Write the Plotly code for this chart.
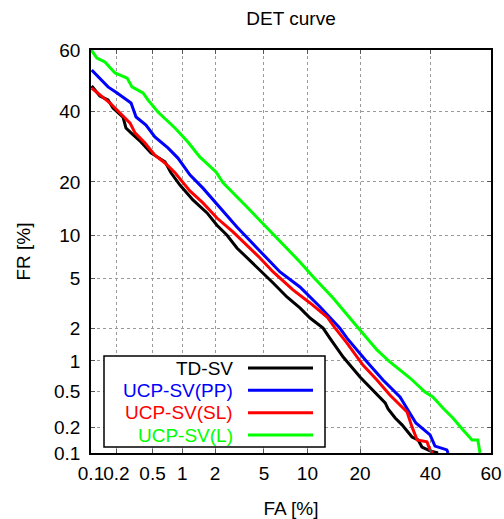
from statistics import NormalDist
import plotly.graph_objects as go

# ---- data (percent) ----
tick_values = [0.1, 0.2, 0.5, 1, 2, 5, 10, 20, 40, 60]
tick_labels = ["0.1", "0.2", "0.5", "1", "2", "5", "10", "20", "40", "60"]

td_sv_fa = [0.102, 0.128, 0.160, 0.183, 0.238, 0.257, 0.293, 0.376, 0.481, 0.672, 0.772, 0.947,
            1.26, 1.70, 2.08, 2.53, 3.07, 4.67, 5.85, 7.32, 8.95, 10.4, 12.5, 13.7, 16.3, 20.0,
            23.2, 26.4, 27.2, 29.2, 31.2, 34.2, 36.1, 37.3, 39.9, 42.5]
td_sv_fr = [48.2, 44.9, 43.6, 41.0, 38.1, 34.7, 33.2, 30.5, 27.4, 25.0, 22.2, 19.3,
            16.1, 13.6, 11.5, 10.0, 8.24, 5.80, 4.65, 3.63, 2.96, 2.44, 2.00, 1.63, 1.09, 0.695,
            0.512, 0.374, 0.322, 0.256, 0.214, 0.155, 0.143, 0.118, 0.106, 0.1]

pp_fa = [0.102, 0.128, 0.160, 0.204, 0.265, 0.293, 0.333, 0.426, 0.529, 0.72, 0.905, 1.18,
         1.56, 2.21, 3.07, 4.43, 6.55, 8.95, 12.0, 15.6, 17.1, 21.7, 25.8, 30.6, 32.7, 35.4,
         39.9, 41.5, 45.4, 45.8]
pp_fr = [53.5, 50.8, 47.9, 45.9, 43.6, 42.6, 38.1, 35.6, 32.0, 28.8, 26.0, 21.7,
         18.6, 14.5, 11.2, 8.24, 5.61, 4.34, 3.01, 2.00, 1.63, 0.977, 0.649, 0.433, 0.330, 0.225,
         0.164, 0.121, 0.109, 0.1]

sl_fa = [0.102, 0.128, 0.169, 0.220, 0.252, 0.286, 0.324, 0.416, 0.529, 0.672, 0.847, 1.18,
         1.56, 2.08, 2.85, 3.90, 4.67, 5.85, 8.05, 10.4, 13.2, 14.7, 17.1, 20.7, 24.2, 27.7,
         31.5, 32.7, 34.2, 35.8, 38.9, 39.9, 40.8]
sl_fr = [47.5, 45.2, 42.6, 39.4, 37.8, 36.2, 33.2, 30.2, 26.8, 24.7, 22.2, 18.0,
         15.5, 12.7, 10.45, 8.24, 7.05, 5.61, 4.12, 3.25, 2.49, 2.00, 1.47, 0.913, 0.649, 0.454,
         0.330, 0.298, 0.203, 0.143, 0.136, 0.109, 0.1]

l_fa = [0.101, 0.118, 0.147, 0.193, 0.265, 0.30, 0.396, 0.447, 0.569, 0.847, 1.13, 1.46,
        2.04, 2.35, 3.70, 5.27, 7.32, 8.95, 10.9, 14.3, 19.6, 24.2, 27.7, 33.6, 38.3, 40.8,
        44.1, 47.4, 50.8, 53.8, 55.7, 56.4]
l_fr = [60.0, 57.4, 56.1, 52.5, 50.8, 47.9, 45.9, 43.6, 39.7, 34.7, 30.5, 26.3,
        22.4, 19.8, 14.7, 11.1, 8.24, 6.62, 5.16, 3.56, 2.00, 1.27, 0.977, 0.679, 0.488, 0.433,
        0.330, 0.256, 0.187, 0.143, 0.143, 0.1]

series_names = ["TD-SV", "UCP-SV(PP)", "UCP-SV(SL)", "UCP-SV(L)"]
series_colors = ["#000000", "#0000ff", "#ff0000", "#00ff00"]
series_fa = [td_sv_fa, pp_fa, sl_fa, l_fa]
series_fr = [td_sv_fr, pp_fr, sl_fr, l_fr]

nd = NormalDist()


def probit(pct):
    return nd.inv_cdf(pct / 100.0)


FONT = "Liberation Sans, Arial, sans-serif"

fig = go.Figure()
for name, col, fa, fr in zip(series_names, series_colors, series_fa, series_fr):
    fig.add_trace(go.Scatter(
        x=[probit(v) for v in fa], y=[probit(v) for v in fr],
        mode="lines", name=name, line=dict(color=col, width=3),
        showlegend=False, customdata=list(zip(fa, fr)),
        hovertemplate="FA %{customdata[0]}%<br>FR %{customdata[1]}%<extra>" + name + "</extra>",
    ))

eps = 1e-6
rng = [probit(0.1) - eps, probit(60) + eps]
tv = [probit(v) for v in tick_values]

axis_common = dict(
    range=rng, tickvals=tv, ticktext=tick_labels, tickangle=0, automargin=False,
    showgrid=True, gridcolor="#9a9a9a", griddash="dot", gridwidth=1,
    showline=True, linecolor="#000000", linewidth=1.5, mirror="allticks",
    ticks="inside", ticklen=4, tickcolor="#555555",
    tickfont=dict(family=FONT, size=19, color="#000000"),
    zeroline=False,
)

fig.update_layout(
    width=504, height=519,
    margin=dict(l=91, r=13, t=50, b=66, autoexpand=False),
    plot_bgcolor="white", paper_bgcolor="white",
    font=dict(family=FONT, size=19, color="#000000"),
    title=dict(text="DET curve", x=291 / 504, xanchor="center", y=1 - 18 / 519, yanchor="middle",
               font=dict(family=FONT, size=19, color="#000000")),
    xaxis=dict(axis_common, title=dict(text="FA [%]", standoff=22,
                                         font=dict(family=FONT, size=19)),
               ticklabelstandoff=2),
    yaxis=dict(axis_common, title=dict(text="FR [%]", standoff=18,
                                         font=dict(family=FONT, size=19)),
               ticklabelstandoff=5),
    showlegend=False,
)

# gnuplot-style key (text right-aligned, sample line on the right)
box = dict(x0=13 / 400, x1=234 / 400, y0=6 / 403, y1=97 / 403)
fig.add_shape(type="rect", xref="paper", yref="paper", **box,
              line=dict(color="#000000", width=1.5), fillcolor="white", layer="above")
row_px = [368, 390.3, 412.7, 435]
for name, col, py in zip(series_names, series_colors, row_px):
    yp = (453 - py) / 403
    fig.add_annotation(xref="paper", yref="paper", x=(235 - 91) / 400, y=yp,
                       xanchor="right", yanchor="middle", text=name, showarrow=False,
                       font=dict(family=FONT, size=19, color=col))
    fig.add_shape(type="line", xref="paper", yref="paper",
                  x0=(248 - 91) / 400, x1=(313 - 91) / 400, y0=yp, y1=yp,
                  line=dict(color=col, width=3), layer="above")

fig.write_html("out.html")
